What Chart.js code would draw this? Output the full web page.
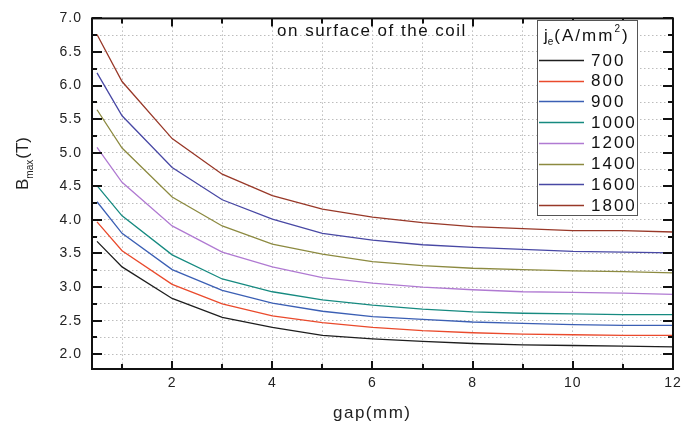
<!DOCTYPE html>
<html><head><meta charset="utf-8">
<script src="https://cdn.jsdelivr.net/npm/chart.js@4/dist/chart.umd.min.js"></script>
<style>html,body{margin:0;padding:0;background:#fff}#wrap{width:699px;height:428px}</style>
</head><body><div id="wrap"><canvas id="c" width="699" height="428"></canvas></div>
<script>
// gap (mm)
const gaps = [0.5, 1, 2, 3, 4, 5, 6, 7, 8, 9, 10, 11, 12];
// B_max (T) for each current density j_e (A/mm^2)
const b700  = [3.68, 3.30, 2.83, 2.55, 2.40, 2.28, 2.23, 2.19, 2.16, 2.14, 2.13, 2.12, 2.11];
const b800  = [3.97, 3.54, 3.04, 2.75, 2.57, 2.47, 2.40, 2.35, 2.32, 2.30, 2.29, 2.28, 2.28];
const b900  = [4.27, 3.80, 3.26, 2.95, 2.76, 2.64, 2.56, 2.52, 2.48, 2.46, 2.44, 2.43, 2.43];
const b1000 = [4.51, 4.06, 3.48, 3.12, 2.93, 2.81, 2.73, 2.67, 2.63, 2.61, 2.60, 2.59, 2.59];
const b1200 = [5.08, 4.56, 3.91, 3.52, 3.30, 3.14, 3.06, 3.00, 2.96, 2.93, 2.92, 2.91, 2.89];
const b1400 = [5.64, 5.07, 4.34, 3.91, 3.64, 3.49, 3.38, 3.32, 3.28, 3.26, 3.24, 3.23, 3.21];
const b1600 = [6.19, 5.55, 4.78, 4.30, 4.01, 3.80, 3.70, 3.63, 3.59, 3.56, 3.53, 3.52, 3.51];
const b1800 = [6.76, 6.06, 5.21, 4.68, 4.36, 4.16, 4.04, 3.96, 3.90, 3.87, 3.84, 3.84, 3.82];
const seriesLabels = ['700', '800', '900', '1000', '1200', '1400', '1600', '1800'];
const seriesValues = [b700, b800, b900, b1000, b1200, b1400, b1600, b1800];
const seriesColors = ['#1e1e1e', '#ea4a2c', '#3b5fb4', '#168a80', '#b07ad2', '#8c8a40', '#4848a4', '#983828'];
const xTickLabels = [2, 4, 6, 8, 10, 12];
const yTickLabels = ['2.0', '2.5', '3.0', '3.5', '4.0', '4.5', '5.0', '5.5', '6.0', '6.5', '7.0'];
const annotationText = 'on surface of the coil';

const FONT = '"Liberation Sans", Arial, sans-serif';

const datasets = seriesLabels.map((lab, k) => ({
  label: lab,
  data: gaps.map((g, i) => ({x: g, y: seriesValues[k][i]})),
  borderColor: seriesColors[k],
  backgroundColor: seriesColors[k],
  borderWidth: 1.3,
  pointRadius: 0,
  tension: 0,
  showLine: true,
  fill: false
}));

function txt(ctx, s, x, y, font, spacing) {
  ctx.font = font;
  ctx.letterSpacing = (spacing || 0) + 'px';
  ctx.fillText(s, x, y);
  const w = ctx.measureText(s).width;
  ctx.letterSpacing = '0px';
  return w;
}

const decor = {
  id: 'decor',
  beforeDraw(chart) {
    chart.ctx.letterSpacing = '1px';
  },
  afterDraw(chart) {
    const ctx = chart.ctx;
    const a = chart.chartArea;
    const xs = chart.scales.x, ys = chart.scales.y;
    ctx.save();
    ctx.letterSpacing = '0px';
    // ticks
    ctx.strokeStyle = '#111';
    ctx.lineWidth = 2;
    ctx.beginPath();
    ys.ticks.forEach(t => {
      const p = Math.round(ys.getPixelForValue(t.value));
      const major = Math.abs(t.value * 2 - Math.round(t.value * 2)) < 1e-6;
      const len = major ? 10 : 5;
      ctx.moveTo(a.left, p); ctx.lineTo(a.left + len, p);
      ctx.moveTo(a.right, p); ctx.lineTo(a.right - len, p);
    });
    xs.ticks.forEach(t => {
      const p = Math.round(xs.getPixelForValue(t.value));
      const major = t.value % 2 === 0;
      const len = major ? 8 : 5;
      ctx.moveTo(p, a.bottom); ctx.lineTo(p, a.bottom - len);
      ctx.moveTo(p, a.top); ctx.lineTo(p, a.top + len);
    });
    ctx.stroke();
    // frame
    ctx.lineWidth = 2;
    ctx.strokeStyle = '#111';
    ctx.strokeRect(a.left, a.top, a.right - a.left, a.bottom - a.top);

    // annotation
    ctx.fillStyle = '#111';
    ctx.textBaseline = 'middle';
    ctx.textAlign = 'left';
    txt(ctx, annotationText, 277, 31, '17px ' + FONT, 1.5);

    // legend
    const lx = 537, ly = 20, lw = 100, lh = 195;
    ctx.fillStyle = '#fff';
    ctx.fillRect(lx, ly, lw, lh);
    ctx.strokeStyle = '#555';
    ctx.lineWidth = 1;
    ctx.strokeRect(lx + 0.5, ly + 0.5, lw, lh);
    ctx.fillStyle = '#111';
    let cx = 544;
    const ty = 36;
    cx += txt(ctx, 'j', cx, ty, '17px ' + FONT, 0);
    cx += txt(ctx, 'e', cx, ty + 6, '10px ' + FONT, 0) + 1;
    cx += txt(ctx, '(A/m', cx, ty, '17px ' + FONT, 2);
    cx += txt(ctx, 'm', cx, ty, '17px ' + FONT, 0);
    cx += txt(ctx, '2', cx + 2, ty - 7, '10px ' + FONT, 0) + 4;
    txt(ctx, ')', cx, ty, '17px ' + FONT, 0);
    chart.data.datasets.forEach((ds, i) => {
      const yy = 60 + i * 20.7;
      ctx.strokeStyle = ds.borderColor;
      ctx.lineWidth = 1.3;
      ctx.beginPath();
      ctx.moveTo(539, Math.round(yy) + 0.5);
      ctx.lineTo(584, Math.round(yy) + 0.5);
      ctx.stroke();
      ctx.fillStyle = '#111';
      txt(ctx, ds.label, 591, yy + 1, '17px ' + FONT, 2);
    });

    // axis titles
    ctx.fillStyle = '#222';
    ctx.textAlign = 'left';
    ctx.textBaseline = 'alphabetic';
    txt(ctx, 'gap(mm)', 333, 418, '17px ' + FONT, 1.5);

    ctx.translate(28, 190);
    ctx.rotate(-Math.PI / 2);
    let px = 0;
    px += txt(ctx, 'B', px, 0, '17px ' + FONT, 0);
    px += txt(ctx, 'max', px, 5, '10px ' + FONT, 0) + 1;
    txt(ctx, '(T)', px, 0, '17px ' + FONT, 0);
    ctx.restore();
  }
};

new Chart(document.getElementById('c'), {
  type: 'scatter',
  data: {datasets},
  options: {
    responsive: false,
    animation: false,
    devicePixelRatio: 1,
    layout: {padding: {left: 0, right: 26, top: 10, bottom: 0}},
    plugins: {legend: {display: false}, tooltip: {enabled: false}, title: {display: false}},
    scales: {
      x: {
        type: 'linear',
        min: 0.4, max: 12,
        afterFit: s => { s.height = 59; },
        ticks: {
          stepSize: 1, includeBounds: false, autoSkip: false, maxRotation: 0,
          padding: 6,
          color: '#222',
          font: {family: FONT, size: 14},
          callback: v => (xTickLabels.includes(v) ? String(v) : '')
        },
        grid: {color: '#bdbdbd', lineWidth: 1, drawTicks: false},
        border: {display: false, dash: [1.5, 2.5]}
      },
      y: {
        type: 'linear',
        min: 1.78, max: 7,
        afterFit: s => { s.width = 92; },
        ticks: {
          stepSize: 0.25, includeBounds: false, autoSkip: false,
          padding: 10,
          color: '#222',
          font: {family: FONT, size: 14},
          callback: v => {
            const s = v.toFixed(1);
            return (Math.abs(v * 2 - Math.round(v * 2)) < 1e-6 && yTickLabels.includes(s)) ? s : '';
          }
        },
        grid: {color: '#bdbdbd', lineWidth: 1, drawTicks: false},
        border: {display: false, dash: [1.5, 2.5]}
      }
    }
  },
  plugins: [decor]
});
</script>
</body></html>
